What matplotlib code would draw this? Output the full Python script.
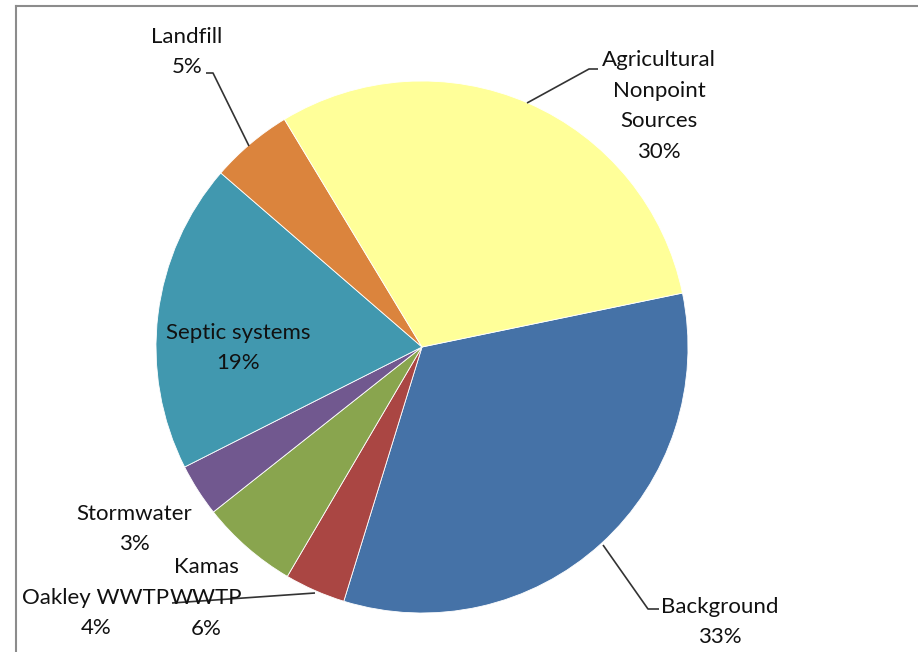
import matplotlib.pyplot as plt
from matplotlib.lines import Line2D

# slice data, clockwise starting at Background
sources = ['Background', 'Oakley WWTP', 'Kamas WWTP', 'Stormwater',
           'Septic systems', 'Landfill', 'Agricultural Nonpoint Sources']
shares = [33.0, 3.7, 5.9, 3.2, 18.8, 5.0, 30.4]
colors = ['#4572A7', '#AA4643', '#89A54E', '#71588F', '#4198AF', '#DB843D', '#FFFF99']

plt.rcParams['font.family'] = ['Lato', 'DejaVu Sans']

W, H = 918, 652
fig = plt.figure(figsize=(W / 100, H / 100), dpi=100)
ax = fig.add_axes([0, 0, 1, 1])
ax.set_xlim(0, W)
ax.set_ylim(0, H)
ax.axis('off')

ax.pie(shares, colors=colors, startangle=11.7, counterclock=False,
       center=(422, H - 347), radius=266,
       wedgeprops=dict(edgecolor='white', linewidth=0.6))
ax.set_xlim(0, W)
ax.set_ylim(0, H)

pct = [f'{round(v):d}%' for v in shares]
fs = 16
tc = '#111111'


def lab(x, y, txt):
    ax.text(x, H - y, txt, ha='center', va='center', fontsize=fs, color=tc,
            linespacing=1.66)


lab(720, 622, 'Background\n' + pct[0])
lab(96, 613, 'Oakley WWTP\n' + pct[1])
lab(206, 598, 'Kamas\nWWTP\n' + pct[2])
lab(134, 529, 'Stormwater\n' + pct[3])
lab(238, 348, 'Septic systems\n' + pct[4])
lab(187, 52, 'Landfill\n' + pct[5])
lab(659, 106, 'Agricultural\nNonpoint\nSources\n' + pct[6])


def leader(xs, ys):
    ax.plot(xs, [H - v for v in ys], color='#333333', lw=1.2,
            solid_capstyle='butt')


leader([206, 213, 249], [73, 73, 146])
leader([527, 589, 598], [103, 69, 69])
leader([603, 648, 659], [545, 609, 609])
leader([172, 315], [603, 593])

# chart frame (cropped on right and bottom)
fig.add_artist(Line2D([16 / W, 16 / W], [0, 1 - 6 / H], color='#8c8c8c', lw=1.5,
                      transform=fig.transFigure))
fig.add_artist(Line2D([16 / W, 1], [1 - 6 / H, 1 - 6 / H], color='#8c8c8c', lw=1.5,
                      transform=fig.transFigure))

fig.savefig('out.png', dpi=100)
